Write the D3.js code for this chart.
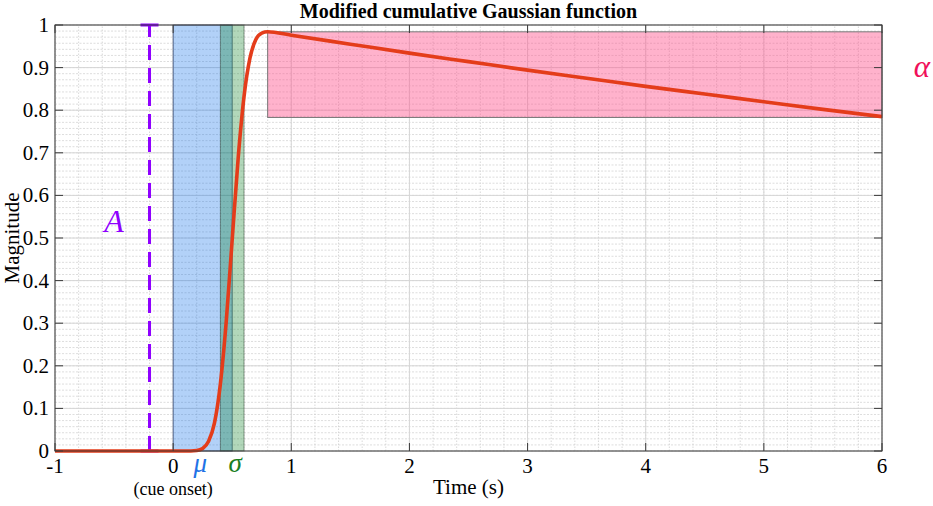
<!DOCTYPE html>
<html>
<head>
<meta charset="utf-8">
<script src="https://cdn.jsdelivr.net/npm/d3@7"></script>
<style>
  body { margin:0; background:#fff; }
  svg text { font-family: "Liberation Serif", "Times New Roman", "DejaVu Serif", serif; }
</style>
</head>
<body>
<div id="plot"></div>
<script>
// chart values
var xTicks = [-1, 0, 1, 2, 3, 4, 5, 6];
var yTicks = [0, 0.1, 0.2, 0.3, 0.4, 0.5, 0.6, 0.7, 0.8, 0.9, 1];
var yTickLabels = ['0','0.1','0.2','0.3','0.4','0.5','0.6','0.7','0.8','0.9','1'];

var curveT = [-1, 0, 0.1, 0.15, 0.2, 0.25, 0.3, 0.35, 0.4, 0.45, 0.5, 0.55, 0.6, 0.65, 0.7, 0.75, 0.8,
              1, 1.5, 2, 2.5, 3, 3.5, 4, 4.5, 5, 5.5, 6];
var curveV = [0, 0, 0, 0, 0.001, 0.006, 0.023, 0.066, 0.158, 0.306, 0.497, 0.686, 0.832, 0.922, 0.966, 0.981, 0.984,
              0.976, 0.955, 0.934, 0.914, 0.894, 0.875, 0.856, 0.838, 0.820, 0.802, 0.785];

var muBand = [0, 0.5];        // blue patch: cue onset to mu
var sigmaBand = [0.4, 0.6];   // green patch: mu +/- sigma
var alphaBox = {t0: 0.8, t1: 6, v0: 0.783, v1: 0.984};
var ampBar = {t: -0.2, v0: 0, v1: 1};

/* canvas */
var W = 933, H = 506;
var margin = {t:25, r:51, b:55, l:55};
var serif = '"Liberation Serif", "Times New Roman", "DejaVu Serif", serif';

var svg = d3.select('#plot').append('svg')
    .attr('width', W).attr('height', H);

var x = d3.scaleLinear().domain([-1, 6]).range([margin.l, W - margin.r]);
var y = d3.scaleLinear().domain([0, 1]).range([H - margin.b, margin.t]);

var x0 = x(-1), x1 = x(6), y0 = y(0), y1 = y(1);

// minor grid
var xMinor = d3.range(-1, 6.001, 0.2);
var yMinor = d3.range(0, 1.0001, 0.1 / 7);

var grid = svg.append('g');
grid.selectAll('.xminor').data(xMinor).enter().append('line')
    .attr('x1', d => x(d)).attr('x2', d => x(d))
    .attr('y1', y0).attr('y2', y1)
    .attr('stroke', '#c8c8c8').attr('stroke-width', 0.7)
    .attr('stroke-dasharray', '1.5,1.5');
grid.selectAll('.yminor').data(yMinor).enter().append('line')
    .attr('x1', x0).attr('x2', x1)
    .attr('y1', d => y(d)).attr('y2', d => y(d))
    .attr('stroke', '#cfcfcf').attr('stroke-width', 0.7)
    .attr('stroke-dasharray', '2,1.5');
// major grid
grid.selectAll('.xmajor').data(xTicks).enter().append('line')
    .attr('x1', d => x(d)).attr('x2', d => x(d))
    .attr('y1', y0).attr('y2', y1)
    .attr('stroke', '#d6d6d6').attr('stroke-width', 1);
grid.selectAll('.ymajor').data(yTicks).enter().append('line')
    .attr('x1', x0).attr('x2', x1)
    .attr('y1', d => y(d)).attr('y2', d => y(d))
    .attr('stroke', '#d6d6d6').attr('stroke-width', 1);

// patches
svg.append('rect')
    .attr('x', x(muBand[0])).attr('y', y1)
    .attr('width', x(muBand[1]) - x(muBand[0])).attr('height', y0 - y1)
    .attr('fill', '#0066e8').attr('fill-opacity', 0.3)
    .attr('stroke', '#1a2a55').attr('stroke-opacity', 0.6);
svg.append('rect')
    .attr('x', x(sigmaBand[0])).attr('y', y1)
    .attr('width', x(sigmaBand[1]) - x(sigmaBand[0])).attr('height', y0 - y1)
    .attr('fill', '#007a1a').attr('fill-opacity', 0.3)
    .attr('stroke', '#334433').attr('stroke-opacity', 0.5);
svg.append('rect')
    .attr('x', x(alphaBox.t0)).attr('y', y(alphaBox.v1))
    .attr('width', x(alphaBox.t1) - x(alphaBox.t0))
    .attr('height', y(alphaBox.v0) - y(alphaBox.v1))
    .attr('fill', '#ff4f8a').attr('fill-opacity', 0.44)
    .attr('stroke', '#777').attr('stroke-width', 1);

// amplitude bar
var purple = '#8f00ff';
svg.append('line')
    .attr('x1', x(ampBar.t)).attr('x2', x(ampBar.t))
    .attr('y1', y(ampBar.v0)).attr('y2', y(ampBar.v1))
    .attr('stroke', purple).attr('stroke-width', 3)
    .attr('stroke-dasharray', '15,8');
[ampBar.v0, ampBar.v1].forEach(function(v){
    svg.append('line')
        .attr('x1', x(ampBar.t) - 9).attr('x2', x(ampBar.t) + 9)
        .attr('y1', y(v)).attr('y2', y(v))
        .attr('stroke', purple).attr('stroke-width', 3);
});

// the curve
var line = d3.line()
    .x(function(d,i){ return x(curveT[i]); })
    .y(function(d){ return y(d); })
    .curve(d3.curveMonotoneX);
svg.append('path')
    .datum(curveV)
    .attr('d', line)
    .attr('fill', 'none')
    .attr('stroke', '#e43c1a')
    .attr('stroke-width', 3.6)
    .attr('stroke-linejoin', 'round');

// axes box + ticks
var axisCol = '#3a3a3a';
svg.append('rect')
    .attr('x', x0).attr('y', y1).attr('width', x1 - x0).attr('height', y0 - y1)
    .attr('fill', 'none').attr('stroke', axisCol).attr('stroke-width', 1);

var tl = 8;
svg.selectAll('.xt').data(xTicks).enter().append('line')
    .attr('x1', d => x(d)).attr('x2', d => x(d))
    .attr('y1', y0).attr('y2', y0 - tl)
    .attr('stroke', axisCol);
svg.selectAll('.xtt').data(xTicks).enter().append('line')
    .attr('x1', d => x(d)).attr('x2', d => x(d))
    .attr('y1', y1).attr('y2', y1 + tl)
    .attr('stroke', axisCol);
svg.selectAll('.yt').data(yTicks).enter().append('line')
    .attr('x1', x0).attr('x2', x0 + tl)
    .attr('y1', d => y(d)).attr('y2', d => y(d))
    .attr('stroke', axisCol);
svg.selectAll('.ytr').data(yTicks).enter().append('line')
    .attr('x1', x1).attr('x2', x1 - tl)
    .attr('y1', d => y(d)).attr('y2', d => y(d))
    .attr('stroke', axisCol);

// tick labels
svg.selectAll('.xl').data(xTicks).enter().append('text')
    .attr('x', d => x(d)).attr('y', y0 + 22)
    .attr('text-anchor', 'middle')
    .attr('font-family', serif).attr('font-size', 21)
    .text(d => String(d));
svg.selectAll('.yl').data(yTicks).enter().append('text')
    .attr('x', x0 - 6).attr('y', d => y(d) + 7)
    .attr('text-anchor', 'end')
    .attr('font-family', serif).attr('font-size', 21)
    .text((d,i) => yTickLabels[i]);

// titles
svg.append('text')
    .attr('x', (x0 + x1) / 2).attr('y', 18)
    .attr('text-anchor', 'middle')
    .attr('font-family', serif).attr('font-size', 20).attr('font-weight', 'bold')
    .text('Modified cumulative Gaussian function');
svg.append('text')
    .attr('x', (x0 + x1) / 2).attr('y', 494)
    .attr('text-anchor', 'middle')
    .attr('font-family', serif).attr('font-size', 21)
    .text('Time (s)');
svg.append('text')
    .attr('transform', 'translate(19,' + ((y0 + y1) / 2) + ') rotate(-90)')
    .attr('text-anchor', 'middle')
    .attr('font-family', serif).attr('font-size', 21)
    .text('Magnitude');
svg.append('text')
    .attr('x', x(0)).attr('y', 495)
    .attr('text-anchor', 'middle')
    .attr('font-family', serif).attr('font-size', 18)
    .text('(cue onset)');

// parameter labels
svg.append('text')
    .attr('x', x(0.23)).attr('y', y0 + 21)
    .attr('text-anchor', 'middle')
    .attr('font-family', serif).attr('font-size', 27).attr('font-style', 'italic')
    .attr('fill', '#1f72e6')
    .text('μ');
svg.append('text')
    .attr('x', x(0.525)).attr('y', y0 + 21)
    .attr('text-anchor', 'middle')
    .attr('font-family', serif).attr('font-size', 27).attr('font-style', 'italic')
    .attr('fill', '#1a7f22')
    .text('σ');
svg.append('text')
    .attr('x', x(-0.5)).attr('y', 232)
    .attr('text-anchor', 'middle')
    .attr('font-family', serif).attr('font-size', 32).attr('font-style', 'italic')
    .attr('fill', purple)
    .text('A');
svg.append('text')
    .attr('x', 922).attr('y', 77)
    .attr('text-anchor', 'middle')
    .attr('font-family', serif).attr('font-size', 31).attr('font-style', 'italic')
    .attr('fill', '#f0105a')
    .text('α');
</script>
</body>
</html>
